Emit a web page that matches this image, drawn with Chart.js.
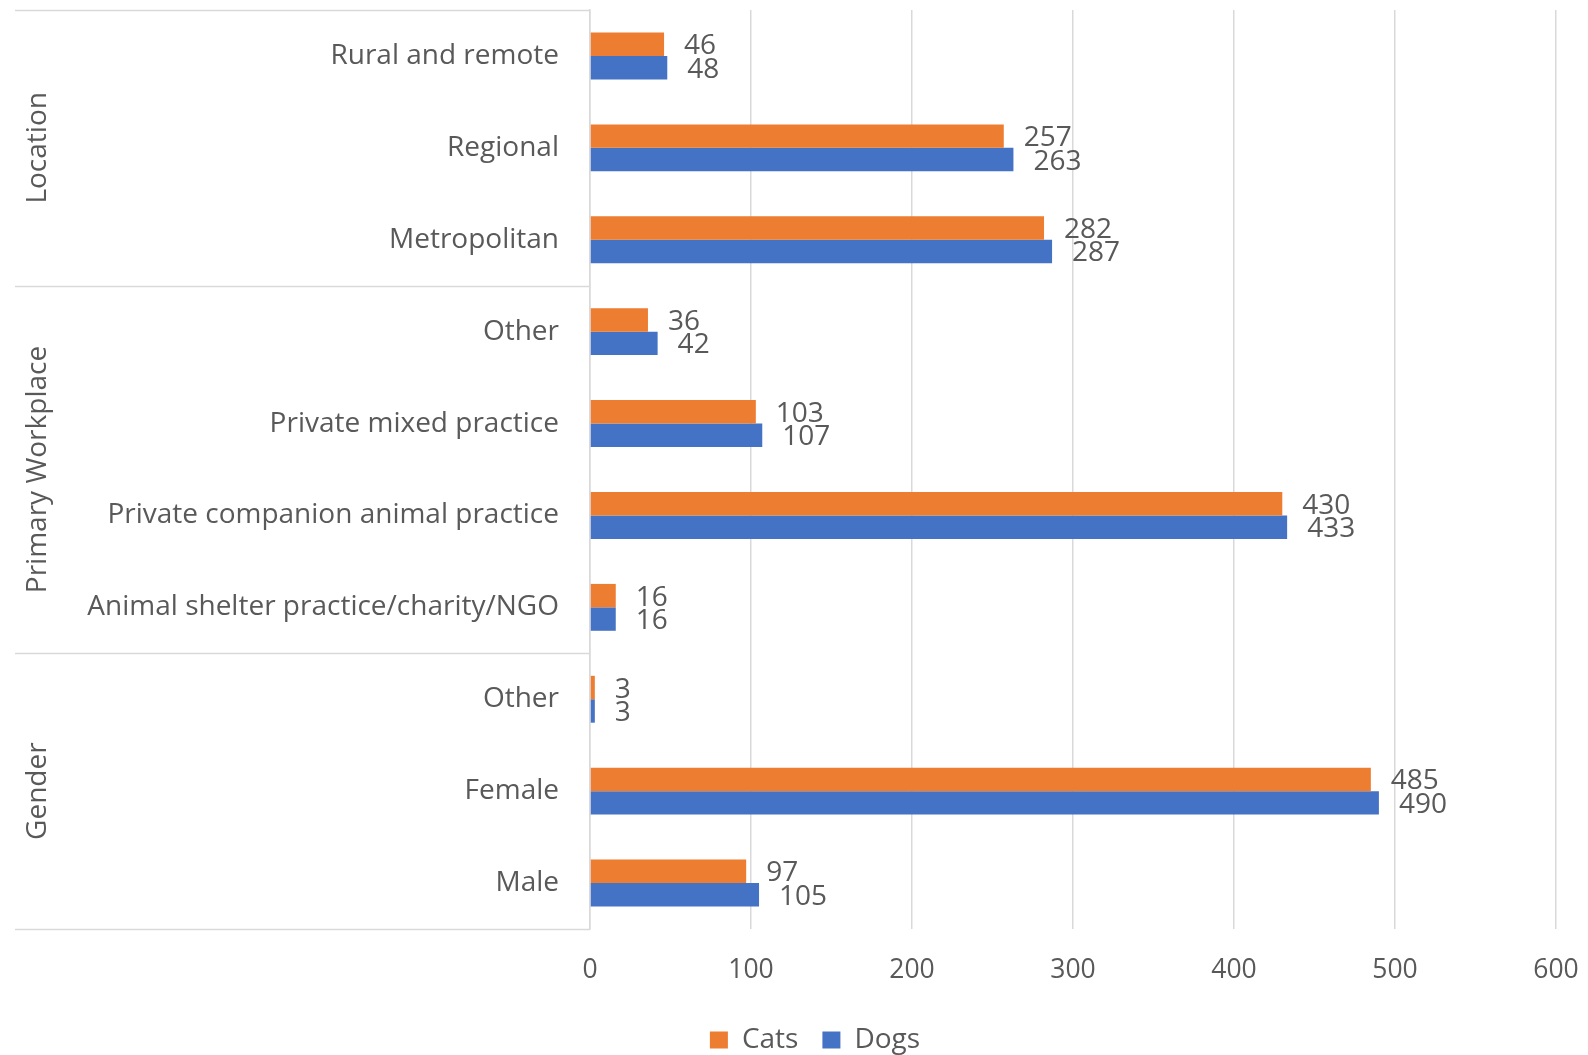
<!DOCTYPE html>
<html>
<head>
<meta charset="utf-8">
<script src="https://cdn.jsdelivr.net/npm/chart.js@4.4.1/dist/chart.umd.min.js"></script>
<style>
    html, body { margin: 0; padding: 0; background: #fff; }
    #wrap { width: 1588px; height: 1055px; }
</style>
</head>
<body>
<div id="wrap"><canvas id="chart" width="1588" height="1055"></canvas></div>
<script>
const categories = [
    'Rural and remote',
    'Regional',
    'Metropolitan',
    'Other',
    'Private mixed practice',
    'Private companion animal practice',
    'Animal shelter practice/charity/NGO',
    'Other',
    'Female',
    'Male'
]
const groupNames = ['Location', 'Primary Workplace', 'Gender']
const groupSizes = [3, 4, 3]
const cats = [46, 257, 282, 36, 103, 430, 16, 3, 485, 97]
const dogs = [48, 263, 287, 42, 107, 433, 16, 3, 490, 105]
const xTicks = [0, 100, 200, 300, 400, 500, 600]

const textColor = '#595959'
const lineColor = '#d9d9d9'
const fontFamily = '"Open Sans", "Noto Sans", sans-serif'
const leftPad = 74

// value labels at the end of every bar
const barLabels = {
    id: 'barLabels',
    afterDatasetsDraw(chart) {
        const ctx = chart.ctx
        ctx.save()
        ctx.font = '28px ' + fontFamily
        ctx.fillStyle = textColor
        ctx.textAlign = 'left'
        ctx.textBaseline = 'middle'
        chart.data.datasets.forEach((ds, i) => {
            chart.getDatasetMeta(i).data.forEach((bar, j) => {
                ctx.fillText(String(ds.data[j]), bar.x + 20, bar.y + 2)
            })
        })
        ctx.restore()
    }
}

// separator lines and rotated group names left of the category labels
const groupAxis = {
    id: 'groupAxis',
    afterDraw(chart) {
        const ctx = chart.ctx
        const y = chart.scales.y
        const area = chart.chartArea
        const edges = [area.top]
        let idx = 0
        groupSizes.forEach((size) => {
            idx += size
            if (idx < categories.length) {
                edges.push((y.getPixelForTick(idx - 1) + y.getPixelForTick(idx)) / 2)
            } else {
                edges.push(area.bottom)
            }
        })
        ctx.save()
        ctx.strokeStyle = lineColor
        ctx.lineWidth = 1.5
        edges.forEach((e) => {
            ctx.beginPath()
            ctx.moveTo(15, Math.round(e) + 0.5)
            ctx.lineTo(area.left, Math.round(e) + 0.5)
            ctx.stroke()
        })
        ctx.font = '28px ' + fontFamily
        ctx.fillStyle = textColor
        ctx.textAlign = 'center'
        ctx.textBaseline = 'middle'
        groupNames.forEach((name, i) => {
            const mid = (edges[i] + edges[i + 1]) / 2
            ctx.save()
            ctx.translate(38, mid)
            ctx.rotate(-Math.PI / 2)
            ctx.fillText(name, 0, 0)
            ctx.restore()
        })
        ctx.restore()
    }
}

const chart = new Chart(document.getElementById('chart').getContext('2d'), {
    type: 'bar',
    data: {
        labels: categories,
        datasets: [
            {
                label: 'Cats',
                data: cats,
                backgroundColor: '#ED7D31',
                borderWidth: 0
            },
            {
                label: 'Dogs',
                data: dogs,
                backgroundColor: '#4472C4',
                borderWidth: 0
            }
        ]
    },
    options: {
        indexAxis: 'y',
        responsive: false,
        animation: false,
        devicePixelRatio: 1,
        categoryPercentage: 0.51,
        barPercentage: 1.0,
        layout: {
            padding: { top: 10, left: leftPad, right: 32, bottom: -9 }
        },
        scales: {
            x: {
                min: 0,
                max: 600,
                afterBuildTicks(scale) {
                    scale.ticks = xTicks.map((v) => ({ value: v }))
                },
                afterFit(scale) {
                    scale.height = 73
                    scale.paddingLeft = 0
                    scale.paddingRight = 0
                },
                grid: { color: lineColor, lineWidth: 1.5, drawTicks: false },
                border: { display: false },
                ticks: {
                    color: textColor,
                    font: { family: fontFamily, size: 26.5 },
                    padding: 26
                }
            },
            y: {
                afterFit(scale) {
                    scale.width = 590 - leftPad
                    scale.paddingTop = 0
                    scale.paddingBottom = 0
                },
                grid: { display: false, drawTicks: false },
                border: { display: true, color: lineColor, width: 1.5 },
                ticks: {
                    color: textColor,
                    font: { family: fontFamily, size: 28 },
                    padding: 31,
                    autoSkip: false
                }
            }
        },
        plugins: {
            legend: {
                position: 'bottom',
                labels: {
                    color: textColor,
                    font: { family: fontFamily, size: 28 },
                    boxWidth: 18,
                    boxHeight: 17,
                    padding: 24
                }
            },
            tooltip: { enabled: false }
        }
    },
    plugins: [barLabels, groupAxis]
})
</script>
</body>
</html>
